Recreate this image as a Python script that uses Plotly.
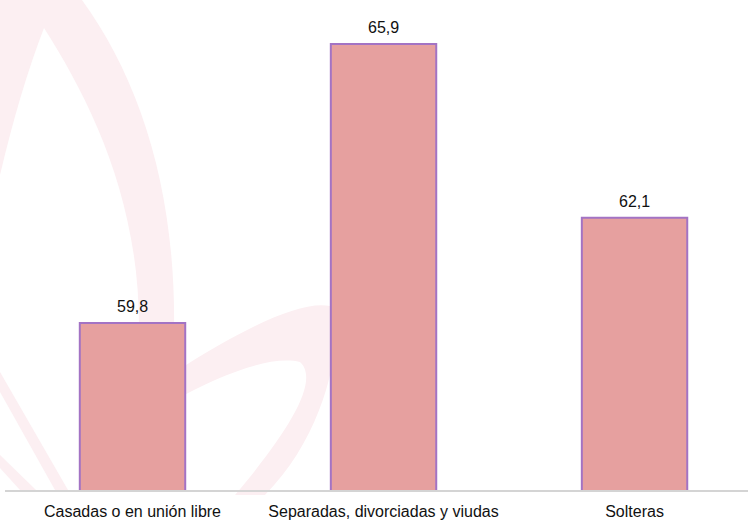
import plotly.graph_objects as go

# Data
categories = ["Casadas o en unión libre", "Separadas, divorciadas y viudas", "Solteras"]
values = [59.8, 65.9, 62.1]

# Layout constants (pixels)
W, H = 748, 521
ML, MR, MT, MB = 5, 0, 0, 31
PW, PH = W - ML - MR, H - MT - MB

FONT = "Liberation Sans, Arial, sans-serif"
BAR_FILL = "#E6A09F"
BAR_LINE = "#A373C4"
WM = "#FCEFF2"


def px(x, y):
    """pixel -> paper coordinates"""
    return "%.4f,%.4f" % ((x - ML) / PW, 1 - (y - MT) / PH)


def path(cmds):
    return " ".join(c if isinstance(c, str) else px(*c) for c in cmds)


# faint flame watermark in the background
watermark = [
    path(["M", (0, 0), "L", (44, 0), "L", (44, 28), "Q", (20, 90), (0, 175), "Z"]),
    path(["M", (38, 0), "L", (82, 0), "C", (140, 80), (176, 190), (174, 330),
          "L", (166, 490), "L", (150, 490), "L", (139, 330),
          "C", (140, 200), (90, 100), (44, 28), "Z"]),
    path(["M", (175, 372), "C", (240, 330), (300, 300), (330, 306),
          "C", (345, 330), (330, 430), (265, 495), "L", (235, 495),
          "C", (290, 430), (320, 380), (300, 362),
          "C", (270, 355), (220, 375), (175, 400), "Z"]),
    path(["M", (0, 372), "L", (0, 392), "L", (55, 490), "L", (68, 490), "Z"]),
    path(["M", (0, 455), "L", (0, 468), "L", (20, 490), "L", (36, 490), "Z"]),
]

fig = go.Figure()

fig.add_trace(go.Bar(
    x=[0, 1, 2],
    y=values,
    width=0.42,
    marker=dict(color=BAR_FILL, line=dict(color=BAR_LINE, width=2)),
    hoverinfo="skip",
))

# value labels above bars
for i, v in enumerate(values):
    fig.add_annotation(x=i, y=v, text=("%.1f" % v).replace(".", ","),
                       showarrow=False, yanchor="bottom", yshift=6,
                       font=dict(family=FONT, size=16, color="#111111"))

fig.update_xaxes(
    range=[-0.508, 2.452],
    tickvals=[0, 1, 2],
    ticktext=categories,
    tickfont=dict(family=FONT, size=16, color="#111111"),
    ticks="outside", ticklen=6, tickcolor="rgba(0,0,0,0)",
    showline=True, linecolor="#D4D4D4", linewidth=2,
    showgrid=False, zeroline=False,
)
fig.update_yaxes(range=[56.15, 66.86], visible=False, showgrid=False)

fig.update_layout(
    width=W, height=H,
    margin=dict(l=ML, r=MR, t=MT, b=MB),
    paper_bgcolor="white", plot_bgcolor="rgba(0,0,0,0)",
    showlegend=False,
    shapes=[dict(type="path", path=p, xref="paper", yref="paper",
                 fillcolor=WM, line=dict(width=0), layer="below") for p in watermark],
)

fig.write_html("out.html", config={"displayModeBar": False},
               post_script="document.body.style.margin='0';")
